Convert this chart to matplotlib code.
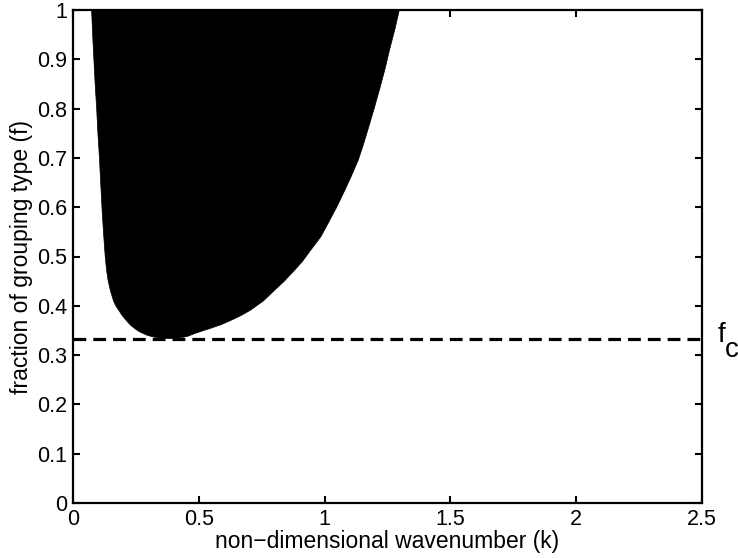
import matplotlib
matplotlib.use("Agg")
import matplotlib.pyplot as plt

plt.rcParams['font.family'] = ['Liberation Sans', 'DejaVu Sans']

# left boundary of the unstable region (f, k), top to bottom
f_left = [1.00, 0.95, 0.90, 0.85, 0.80, 0.75, 0.70, 0.65, 0.60, 0.55, 0.50, 0.47, 0.45,
          0.43, 0.41, 0.40, 0.39, 0.38, 0.37, 0.36, 0.354, 0.348, 0.344, 0.340, 0.337,
          0.3345, 0.3335]
k_left = [0.074, 0.078, 0.083, 0.088, 0.094, 0.099, 0.105, 0.110, 0.115, 0.121, 0.128,
          0.134, 0.140, 0.149, 0.161, 0.170, 0.183, 0.196, 0.212, 0.230, 0.245, 0.262,
          0.278, 0.296, 0.318, 0.345, 0.385]
# right boundary (f, k), bottom to top
f_right = [0.3335, 0.335, 0.338, 0.344, 0.350, 0.354, 0.362, 0.371, 0.380, 0.391, 0.410,
           0.432, 0.450, 0.473, 0.490, 0.513, 0.540, 0.574, 0.600, 0.635, 0.665, 0.696,
           0.725, 0.757, 0.800, 0.842, 0.880, 0.923, 0.960, 1.00]
k_right = [0.385, 0.425, 0.455, 0.485, 0.520, 0.545, 0.590, 0.630, 0.667, 0.705, 0.757,
           0.802, 0.840, 0.882, 0.912, 0.945, 0.985, 1.021, 1.048, 1.081, 1.108, 1.134,
           1.153, 1.172, 1.197, 1.220, 1.240, 1.260, 1.279, 1.297]
f_c = 1.0 / 3.0

x_ticks = [0, 0.5, 1, 1.5, 2, 2.5]
x_ticklabels = ['0', '0.5', '1', '1.5', '2', '2.5']
y_ticks = [0, 0.1, 0.2, 0.3, 0.4, 0.5, 0.6, 0.7, 0.8, 0.9, 1]
y_ticklabels = ['0', '0.1', '0.2', '0.3', '0.4', '0.5', '0.6', '0.7', '0.8', '0.9', '1']

fig = plt.figure(figsize=(7.38, 5.58), dpi=100)
ax = fig.add_axes([73/738, 1 - 503/558, (702-73)/738, (503-10)/558])

poly_k = list(k_left) + list(k_right)
poly_f = list(f_left) + list(f_right)
ax.fill(poly_k, poly_f, color='black', lw=0.5, ec='black')

ax.axhline(f_c, color='black', lw=2.3, ls=(0, (4, 2.2)))

ax.set_xlim(0, 2.5)
ax.set_ylim(0, 1)
ax.set_xticks(x_ticks)
ax.set_xticklabels(x_ticklabels)
ax.set_yticks(y_ticks)
ax.set_yticklabels(y_ticklabels)
ax.tick_params(direction='in', top=True, right=True, length=5, width=1.5,
               labelsize=15.5, pad=4)
for s in ax.spines.values():
    s.set_linewidth(1.6)

ax.set_xlabel('non\u2212dimensional wavenumber (k)', fontsize=16.5, labelpad=0)
ax.set_ylabel('fraction of grouping type (f)', fontsize=16.5, labelpad=3)

fig.text(718/738, 1 - 342/558, 'f', fontsize=20, ha='left', va='baseline')
fig.text(725/738, 1 - 357/558, 'c', fontsize=20, ha='left', va='baseline')

fig.savefig('out.png', dpi=100)
